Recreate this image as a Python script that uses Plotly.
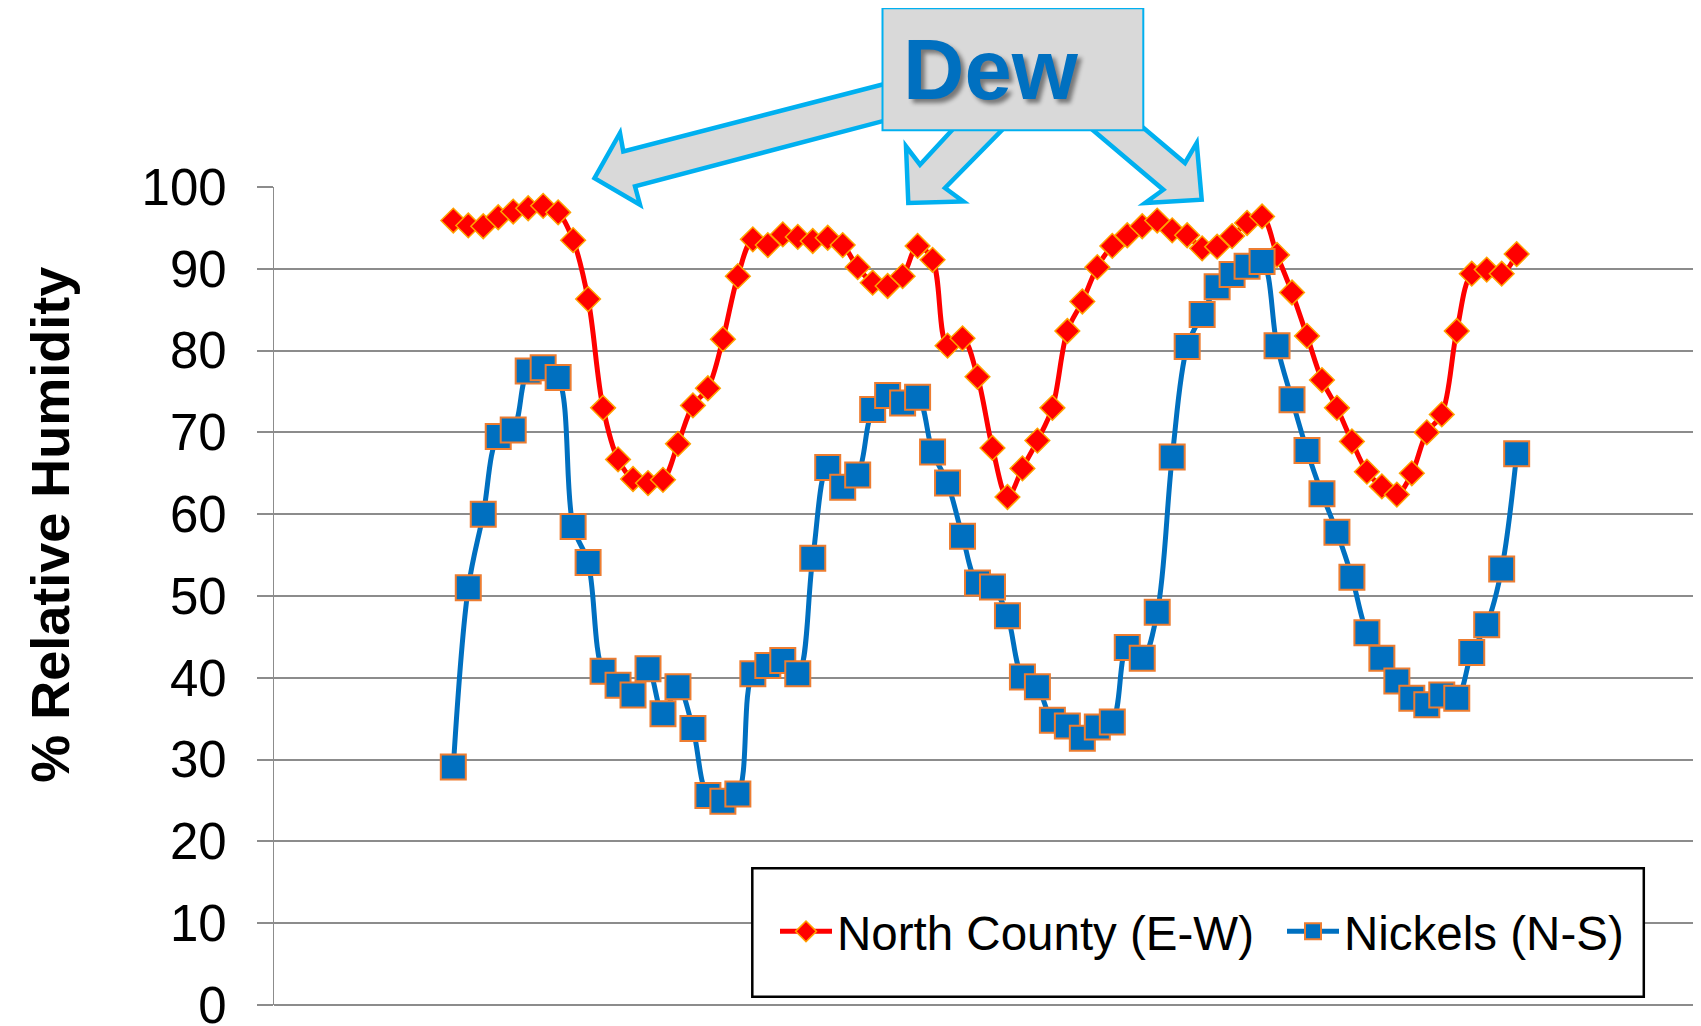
import plotly.graph_objects as go

# ---------------- data ----------------
hours = list(range(72))

north_county = [
    95.9, 95.3, 95.2, 96.3, 97.0, 97.4, 97.7, 96.9, 93.5, 86.3,
    73.0, 66.7, 64.3, 63.8, 64.2, 68.6, 73.3, 75.4, 81.4, 89.1,
    93.6, 92.9, 94.2, 93.9, 93.4, 93.8, 92.9, 90.2, 88.3, 87.9,
    89.1, 92.8, 91.1, 80.6, 81.5, 76.8, 68.1, 62.1, 65.6, 69.0,
    73.0, 82.4, 86.0, 90.2, 92.8, 94.1, 95.2, 95.9, 94.7, 94.1,
    92.5, 92.7, 94.0, 95.6, 96.4, 91.7, 87.1, 81.8, 76.4, 73.0,
    68.9, 65.2, 63.4, 62.4, 65.0, 70.0, 72.2, 82.4, 89.4, 89.9,
    89.4, 91.8,
]

nickels = [
    29.1, 51.0, 60.0, 69.5, 70.3, 77.5, 77.9, 76.7, 58.5, 54.1,
    40.8, 39.1, 37.9, 41.1, 35.6, 38.9, 33.8, 25.6, 24.9, 25.8,
    40.5, 41.5, 42.1, 40.5, 54.6, 65.7, 63.3, 64.8, 72.8, 74.5,
    73.6, 74.3, 67.6, 63.8, 57.3, 51.6, 51.1, 47.6, 40.1, 38.9,
    34.8, 34.1, 32.6, 34.0, 34.6, 43.7, 42.4, 48.0, 67.0, 80.5,
    84.4, 87.8, 89.3, 90.3, 90.9, 80.6, 74.0, 67.8, 62.5, 57.8,
    52.3, 45.5, 42.4, 39.6, 37.5, 36.7, 37.9, 37.5, 43.1, 46.5,
    53.3, 67.4,
]

y_ticks = [0, 10, 20, 30, 40, 50, 60, 70, 80, 90, 100]
y_title = "% Relative Humidity"
series_names = ["North County (E-W)", "Nickels (N-S)"]
callout_text = "Dew"

# ---------------- layout geometry ----------------
# The page body adds an 8px offset; geometry below is in screen pixels.
W, H = 1701, 1026
OFF = 8
AX_L, AX_T, AX_B = 274, 187.3, 1005          # screen px of plot-area left/top/bottom
ML = AX_L - OFF
MT = AX_T - OFF
MB = H - (AX_B - OFF)
MR = 0
PW, PH = W - ML - MR, H - MT - MB


def px(x):
    return (x - AX_L) / PW


def py(y):
    return (AX_B - y) / PH


def path(points):
    return "M " + " L ".join(f"{px(x):.5f},{py(y):.5f}" for x, y in points) + " Z"


FONT = "Liberation Sans, Arial, sans-serif"
GRID = "#8c8c8c"

fig = go.Figure()

fig.add_trace(go.Scatter(
    x=hours, y=north_county, name=series_names[0], mode="lines+markers",
    line=dict(color="#FF0000", width=5, shape="spline", smoothing=1.0),
    marker=dict(symbol="diamond", size=19, color="#FF0000",
                line=dict(color="#FFA200", width=1.5)),
))
fig.add_trace(go.Scatter(
    x=hours, y=nickels, name=series_names[1], mode="lines+markers",
    line=dict(color="#0070C0", width=5, shape="spline", smoothing=1.0),
    marker=dict(symbol="square", size=25, color="#0070C0",
                line=dict(color="#ED7D31", width=2)),
))

STEP = 14.977
x_left = -(453.3 - AX_L) / STEP
x_right = x_left + PW / STEP

shapes = []
# legend frame
shapes.append(dict(type="rect", xref="paper", yref="paper",
                   x0=px(752.3), x1=px(1643.8), y0=py(996.7), y1=py(868.3),
                   fillcolor="white", line=dict(color="black", width=2.5),
                   layer="above"))
# callout arrows
arrow_style = dict(type="path", xref="paper", yref="paper",
                   fillcolor="#D9D9D9", line=dict(color="#00B0F0", width=4.5),
                   layer="above")
shapes.append(dict(arrow_style, path=path([
    (900, 80.3), (623.3, 151.7), (620, 133.3), (594.5, 178.5),
    (640, 205), (635, 186.7), (900, 116.9)])))
shapes.append(dict(arrow_style, path=path([
    (964.4, 117), (920, 165), (906, 146.7), (908.3, 203.3),
    (963.3, 201.7), (945, 188.3), (1015.2, 117)])))
shapes.append(dict(arrow_style, path=path([
    (1077.1, 117), (1163.3, 190), (1145, 203.3), (1201.7, 200),
    (1196.7, 143.3), (1185, 163.3), (1130.3, 117)])))
# callout box
shapes.append(dict(type="rect", xref="paper", yref="paper",
                   x0=px(882.5), x1=px(1143.3), y0=py(130.5), y1=py(8.5),
                   fillcolor="#D9D9D9", line=dict(color="#00B0F0", width=2),
                   layer="above"))

annotations = [
    dict(text=callout_text, xref="paper", yref="paper",
         x=px(991), y=py(70), xanchor="center", yanchor="middle",
         showarrow=False,
         font=dict(family=FONT, size=85, color="#0070C0", weight="bold",
                   shadow="4px 4px 4px rgba(0,0,0,0.45)")),
    dict(text=y_title, xref="paper", yref="paper",
         x=px(50), y=py(525), xanchor="center", yanchor="middle",
         textangle=-90, showarrow=False,
         font=dict(family=FONT, size=54, color="black", weight="bold")),
]

fig.update_layout(
    width=W, height=H,
    margin=dict(l=ML, r=MR, t=MT, b=MB, pad=0, autoexpand=False),
    paper_bgcolor="white", plot_bgcolor="white",
    font=dict(family=FONT, color="black"),
    showlegend=True,
    legend=dict(orientation="h", x=px(775), y=py(931.5), xanchor="left",
                yanchor="middle", bgcolor="rgba(0,0,0,0)", borderwidth=0,
                font=dict(family=FONT, size=47.5, color="black"),
                itemwidth=52,
                entrywidth=440, entrywidthmode="pixels", itemsizing="trace"),
    xaxis=dict(range=[x_left, x_right], showgrid=False, zeroline=False,
               showline=False, showticklabels=False, ticks="", fixedrange=True),
    yaxis=dict(range=[0, 100], tickvals=y_ticks, ticktext=[str(v) for v in y_ticks],
               showgrid=True, gridcolor=GRID, gridwidth=1.5,
               zeroline=True, zerolinecolor=GRID, zerolinewidth=1.5,
               showline=True, linecolor=GRID, linewidth=1.3,
               ticks="outside", ticklen=16, tickcolor=GRID, tickwidth=1.5,
               ticklabelstandoff=20,
               tickfont=dict(family=FONT, size=51, color="black")),
    shapes=shapes,
    annotations=annotations,
)

fig.write_html("out.html")
